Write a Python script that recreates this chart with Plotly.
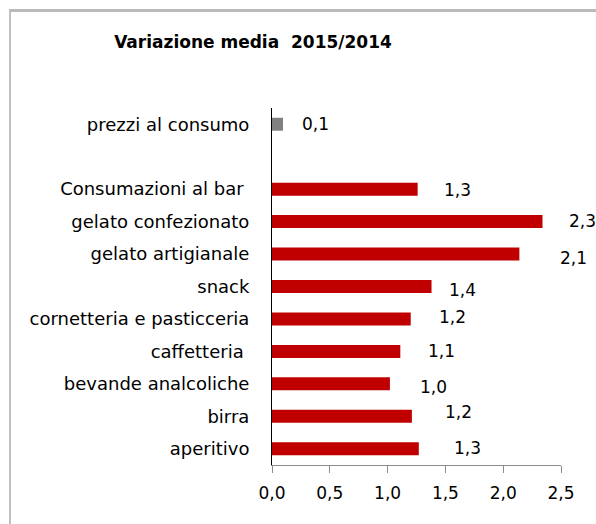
import plotly.graph_objects as go

title = "Variazione media  2015/2014"
categories = ["prezzi al consumo", "", "Consumazioni al bar\u00a0", "gelato confezionato",
              "gelato artigianale", "snack", "cornetteria e pasticceria", "caffetteria\u00a0",
              "bevande analcoliche", "birra", "aperitivo"]
values = [0.095, None, 1.26, 2.34, 2.14, 1.38, 1.20, 1.11, 1.02, 1.21, 1.27]
labels = ["0,1", "", "1,3", "2,3", "2,1", "1,4", "1,2", "1,1", "1,0", "1,2", "1,3"]
colors = ["#808080", "#C00000", "#C00000", "#C00000", "#C00000", "#C00000", "#C00000",
          "#C00000", "#C00000", "#C00000", "#C00000"]
# label offsets (px) right of bar end, and vertical (px, + = up)
label_dx = [17, 0, 24, 24, 39, 15, 26, 26, 28, 31, 33]
label_dy = [0, 0, -1, 1, -4, -3, 2, 0, -3, 4, 1]
xticks = [0, 0.5, 1.0, 1.5, 2.0, 2.5]

FONT = "DejaVu Sans"
fig = go.Figure()
fig.add_trace(go.Bar(
    y=categories, x=[v if v is not None else 0 for v in values], orientation="h",
    marker=dict(color=colors, line=dict(width=0)), width=0.4, hoverinfo="skip",
))
for c, v, t, dx, dy in zip(categories, values, labels, label_dx, label_dy):
    if v is None:
        continue
    fig.add_annotation(x=v, y=c, text=t, showarrow=False, xanchor="left",
                       xshift=dx, yshift=dy, font=dict(family=FONT, size=17, color="black"))

L, R, T, B = 272, 561, 108, 465
W, H = 596, 524
def px(x):
    return (x - L) / (R - L)
def py(y):
    return (B - y) / (B - T)
fig.add_shape(type="line", xref="paper", yref="paper", x0=px(10), x1=px(10), y0=py(10), y1=py(524),
              line=dict(color="#c0c0c0", width=2), layer="above")
fig.add_shape(type="line", xref="paper", yref="paper", x0=px(9), x1=px(596), y0=py(10.5), y1=py(10.5),
              line=dict(color="#bbbbbb", width=3), layer="above")

fig.update_layout(
    width=W, height=H, margin=dict(l=L, r=W - R, t=T, b=H - B),
    paper_bgcolor="white", plot_bgcolor="white", showlegend=False,
    separators=",.",
    title=dict(text="<b>" + title + "</b>", x=253 / W, xanchor="center", y=1 - 42 / H, yanchor="middle",
               font=dict(family=FONT, size=17, color="black")),
    font=dict(family=FONT, size=17, color="black"),
    bargap=0.6,
)
fig.update_xaxes(range=[0, 2.5], tickvals=xticks, tickformat=".1f", showgrid=False, zeroline=False,
                 showline=True, linecolor="#8c8c8c", linewidth=1, ticks="outside", ticklen=7,
                 tickcolor="#8c8c8c", ticklabelstandoff=6, tickfont=dict(family=FONT, size=17, color="black"))
fig.update_yaxes(categoryorder="array", categoryarray=categories, autorange="reversed",
                 showgrid=False, zeroline=False, showline=True, linecolor="black", linewidth=1,
                 ticks="", ticklabelstandoff=18, tickfont=dict(family=FONT, size=18, color="black"))

post = "document.body.style.margin='0';document.body.style.overflow='hidden';"
fig.write_html("out.html", config={"displayModeBar": False}, post_script=post)
